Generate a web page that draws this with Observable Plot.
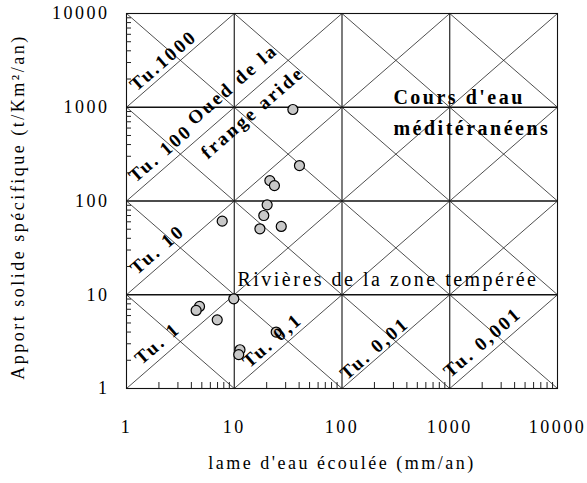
<!DOCTYPE html>
<html><head><meta charset="utf-8">
<script src="https://cdn.jsdelivr.net/npm/d3@7"></script>
<script src="https://cdn.jsdelivr.net/npm/@observablehq/plot@0.6"></script>
<style>
body{margin:0;background:#fff}
</style></head><body><div id="chart"></div>
<script>
// data points
const lame = [35, 40.3, 21.4, 23.6, 20.2, 18.8, 17.3, 27.3, 7.73, 9.9, 4.76, 4.43, 6.95, 11.3, 11.0, 24.5];
const apport = [946, 239, 165, 146, 91, 70, 50.5, 53.5, 61, 9.05, 7.5, 6.8, 5.4, 2.59, 2.3, 4.0];
const majorTicks = [1, 10, 100, 1000, 10000];
const minorTicks = [1, 10, 100, 1000].flatMap(d => [2,3,4,5,6,7,8,9].map(k => k * d));
// turbidity lines (y = tu * x) and crossing lines (x * y = p)
const tuValues = [1000, 100, 10, 1, 0.1, 0.01, 0.001];
const products = [10, 100, 1000, 1e4, 1e5, 1e6, 1e7];
// rotated labels
const tuLabels = ["Tu.1000", "Tu. 100", "Oued de la", "frange aride", "Tu. 10", "Tu. 1", "Tu. 0,1", "Tu. 0,01", "Tu. 0,001"];
const tuLabelX = [2.2, 2.07, 9.66, 14.8, 1.94, 1.94, 22.6, 200, 2014];
const tuLabelY = [3150, 321, 1750, 879, 30.4, 3.02, 3.25, 2.67, 3.1];
// horizontal labels
const regionLabels = ["Cours d'eau", "méditéranéens", "Rivières de la zone tempérée"];
const regionX = [300, 300, 10.7];
const regionY = [1270, 593, 14.5];

const W = 587, H = 483;
const serif = "Liberation Serif, Times New Roman, serif";
const idx = d3.range(lame.length);

const chart = Plot.plot({
  width: W, height: H,
  marginLeft: 126, marginRight: 30, marginTop: 13, marginBottom: 95,
  x: {type: "log", domain: [1, 10000], axis: null},
  y: {type: "log", domain: [1, 10000], axis: null},
  style: {fontFamily: serif, background: "#fff", color: "#000"},
  marks: [
    Plot.ruleX(majorTicks.slice(1, -1), {stroke: "#111", strokeWidth: 1.1}),
    Plot.ruleY(majorTicks.slice(1, -1), {stroke: "#111", strokeWidth: 1.5}),
    Plot.link(tuValues, {
      x1: t => Math.max(1, 1 / t), y1: t => t * Math.max(1, 1 / t),
      x2: t => Math.min(1e4, 1e4 / t), y2: t => t * Math.min(1e4, 1e4 / t),
      stroke: "#222", strokeWidth: 0.8
    }),
    Plot.link(products, {
      x1: p => Math.max(1, p / 1e4), y1: p => p / Math.max(1, p / 1e4),
      x2: p => Math.min(1e4, p), y2: p => p / Math.min(1e4, p),
      stroke: "#222", strokeWidth: 0.8
    }),
    Plot.frame({stroke: "#111", strokeWidth: 1.1}),
    Plot.axisY({ticks: minorTicks, tickSize: -5, tickFormat: () => "", stroke: "#222"}),
    Plot.axisX({ticks: minorTicks, tickSize: -6, tickFormat: () => "", stroke: "#222"}),
    Plot.axisY({ticks: majorTicks, tickSize: 0, tickPadding: 17, tickFormat: d => String(d), fontSize: 18, fontFamily: serif}),
    Plot.axisX({ticks: majorTicks, tickSize: 0, tickPadding: 32, tickFormat: d => String(d), fontSize: 18, fontFamily: serif}),
    Plot.dot(idx, {x: i => lame[i], y: i => apport[i], r: 5, fill: "#c8c8c8", stroke: "#000", strokeWidth: 1.2}),
    Plot.text(["lame d'eau écoulée (mm/an)"], {text: d => d, frameAnchor: "bottom", dy: 80, fontSize: 18, fontFamily: serif}),
    Plot.text(["Apport solide spécifique (t/Km²/an)"], {text: d => d, frameAnchor: "left", textAnchor: "middle", dx: -108, dy: 6, rotate: -90, fontSize: 18, fontFamily: serif}),
    Plot.text(tuLabels, {x: (d, i) => tuLabelX[i], y: (d, i) => tuLabelY[i], text: d => d, rotate: -41, fontSize: 19, fontWeight: "bold", fontFamily: serif}),
    Plot.text(regionLabels.slice(0, 2), {x: (d, i) => regionX[i], y: (d, i) => regionY[i], text: d => d, textAnchor: "start", fontSize: 20, fontWeight: "bold", fontFamily: serif}),
    Plot.text(regionLabels.slice(2), {x: (d, i) => regionX[i + 2], y: (d, i) => regionY[i + 2], text: d => d, textAnchor: "start", fontSize: 20, fontFamily: serif})
  ]
});
d3.select(chart).selectAll("text").attr("letter-spacing", "2.5px");
document.getElementById("chart").appendChild(chart);
</script></body></html>
